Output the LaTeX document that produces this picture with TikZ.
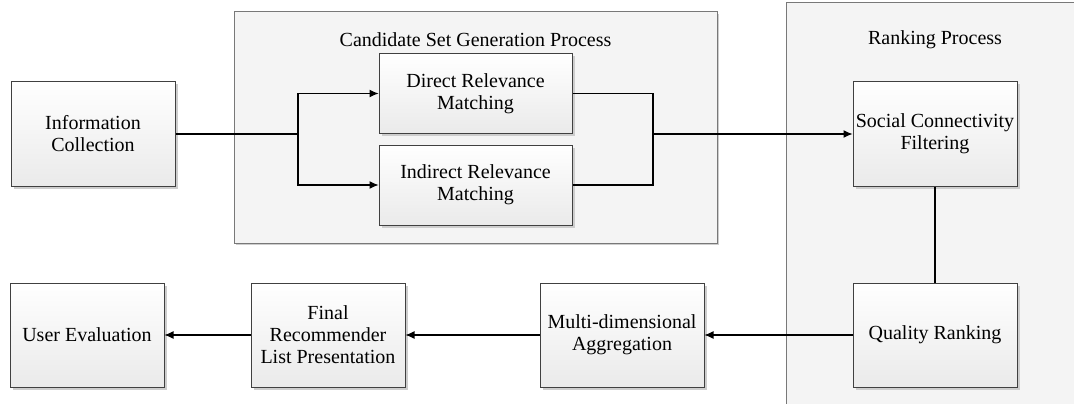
\documentclass[tikz,border=0pt]{standalone}
\usepackage{fontspec}
\setmainfont{Liberation Serif}
\usetikzlibrary{arrows.meta,shadows,calc}
\definecolor{boxline}{RGB}{64,64,64}
\definecolor{boxbot}{RGB}{234,234,234}
\definecolor{grpfill}{RGB}{244,244,244}
\definecolor{grpline}{RGB}{120,120,120}
\definecolor{shadowc}{RGB}{205,205,205}
\tikzset{
  stepbox/.style={draw=boxline, line width=1pt, top color=white, bottom color=boxbot,
    align=center, inner sep=2pt,
    drop shadow={shadow xshift=2.5pt, shadow yshift=-2.5pt, fill=shadowc, opacity=1}},
  grp/.style={draw=grpline, line width=1pt, fill=grpfill,
    drop shadow={shadow xshift=2pt, shadow yshift=-2pt, fill=shadowc, opacity=1}},
  conn/.style={line width=1.1pt, black},
  arr/.style={conn, -{Latex[length=9pt,width=8pt]}},
  ttl/.style={inner sep=0pt}
}
\begin{document}
\begin{tikzpicture}[x=1pt,y=-1pt,font=\fontsize{20}{22}\selectfont]
\clip (0,0) rectangle (1074,404);
\fill[white] (0,0) rectangle (1074,404);
% groups
\node[grp, minimum width=483pt, minimum height=231pt, inner sep=0pt] (cgroup) at (475.5,127.5) {};
\node[grp, minimum width=300pt, minimum height=420pt, inner sep=0pt] (rgroup) at (936,213) {};
\node[ttl] (ctitle) at (475.5,40) {Candidate Set Generation Process};
\node[ttl] (rtitle) at (935,40) {Ranking Process};
% boxes
\node[stepbox, minimum width=164pt, minimum height=104pt] (info) at (93,134) {Information\\Collection};
\node[stepbox, minimum width=193pt, minimum height=79pt] (direct) at (475.5,93.5) {Direct Relevance\\Matching};
\node[stepbox, minimum width=193pt, minimum height=80pt] (indirect) at (475.5,185) {Indirect Relevance\\Matching};
\node[stepbox, minimum width=164pt, minimum height=104pt] (social) at (935,134) {Social Connectivity\\Filtering};
\node[stepbox, minimum width=164pt, minimum height=104pt] (quality) at (935,335) {Quality Ranking};
\node[stepbox, minimum width=164pt, minimum height=104pt] (multi) at (622,335) {Multi-dimensional\\Aggregation};
\node[stepbox, minimum width=154pt, minimum height=104pt] (final) at (328,335) {Final\\Recommender\\List Presentation};
\node[stepbox, minimum width=154pt, minimum height=104pt] (user) at (87,335) {User Evaluation};
% junctions
\coordinate (split) at (298,134);
\coordinate (merge) at (653,134);
% connectors
\draw[conn] (info.east) -- (split);
\draw[arr] (split) |- (direct.west);
\draw[arr] (split) |- (indirect.west);
\draw[conn] (direct.east) -| (merge);
\draw[conn] (indirect.east) -| (merge);
\draw[arr] (merge) -- (social.west);
\draw[conn] (social.south) -- (quality.north);
\draw[arr] (quality.west) -- (multi.east);
\draw[arr] (multi.west) -- (final.east);
\draw[arr] (final.west) -- (user.east);
\end{tikzpicture}
\end{document}
